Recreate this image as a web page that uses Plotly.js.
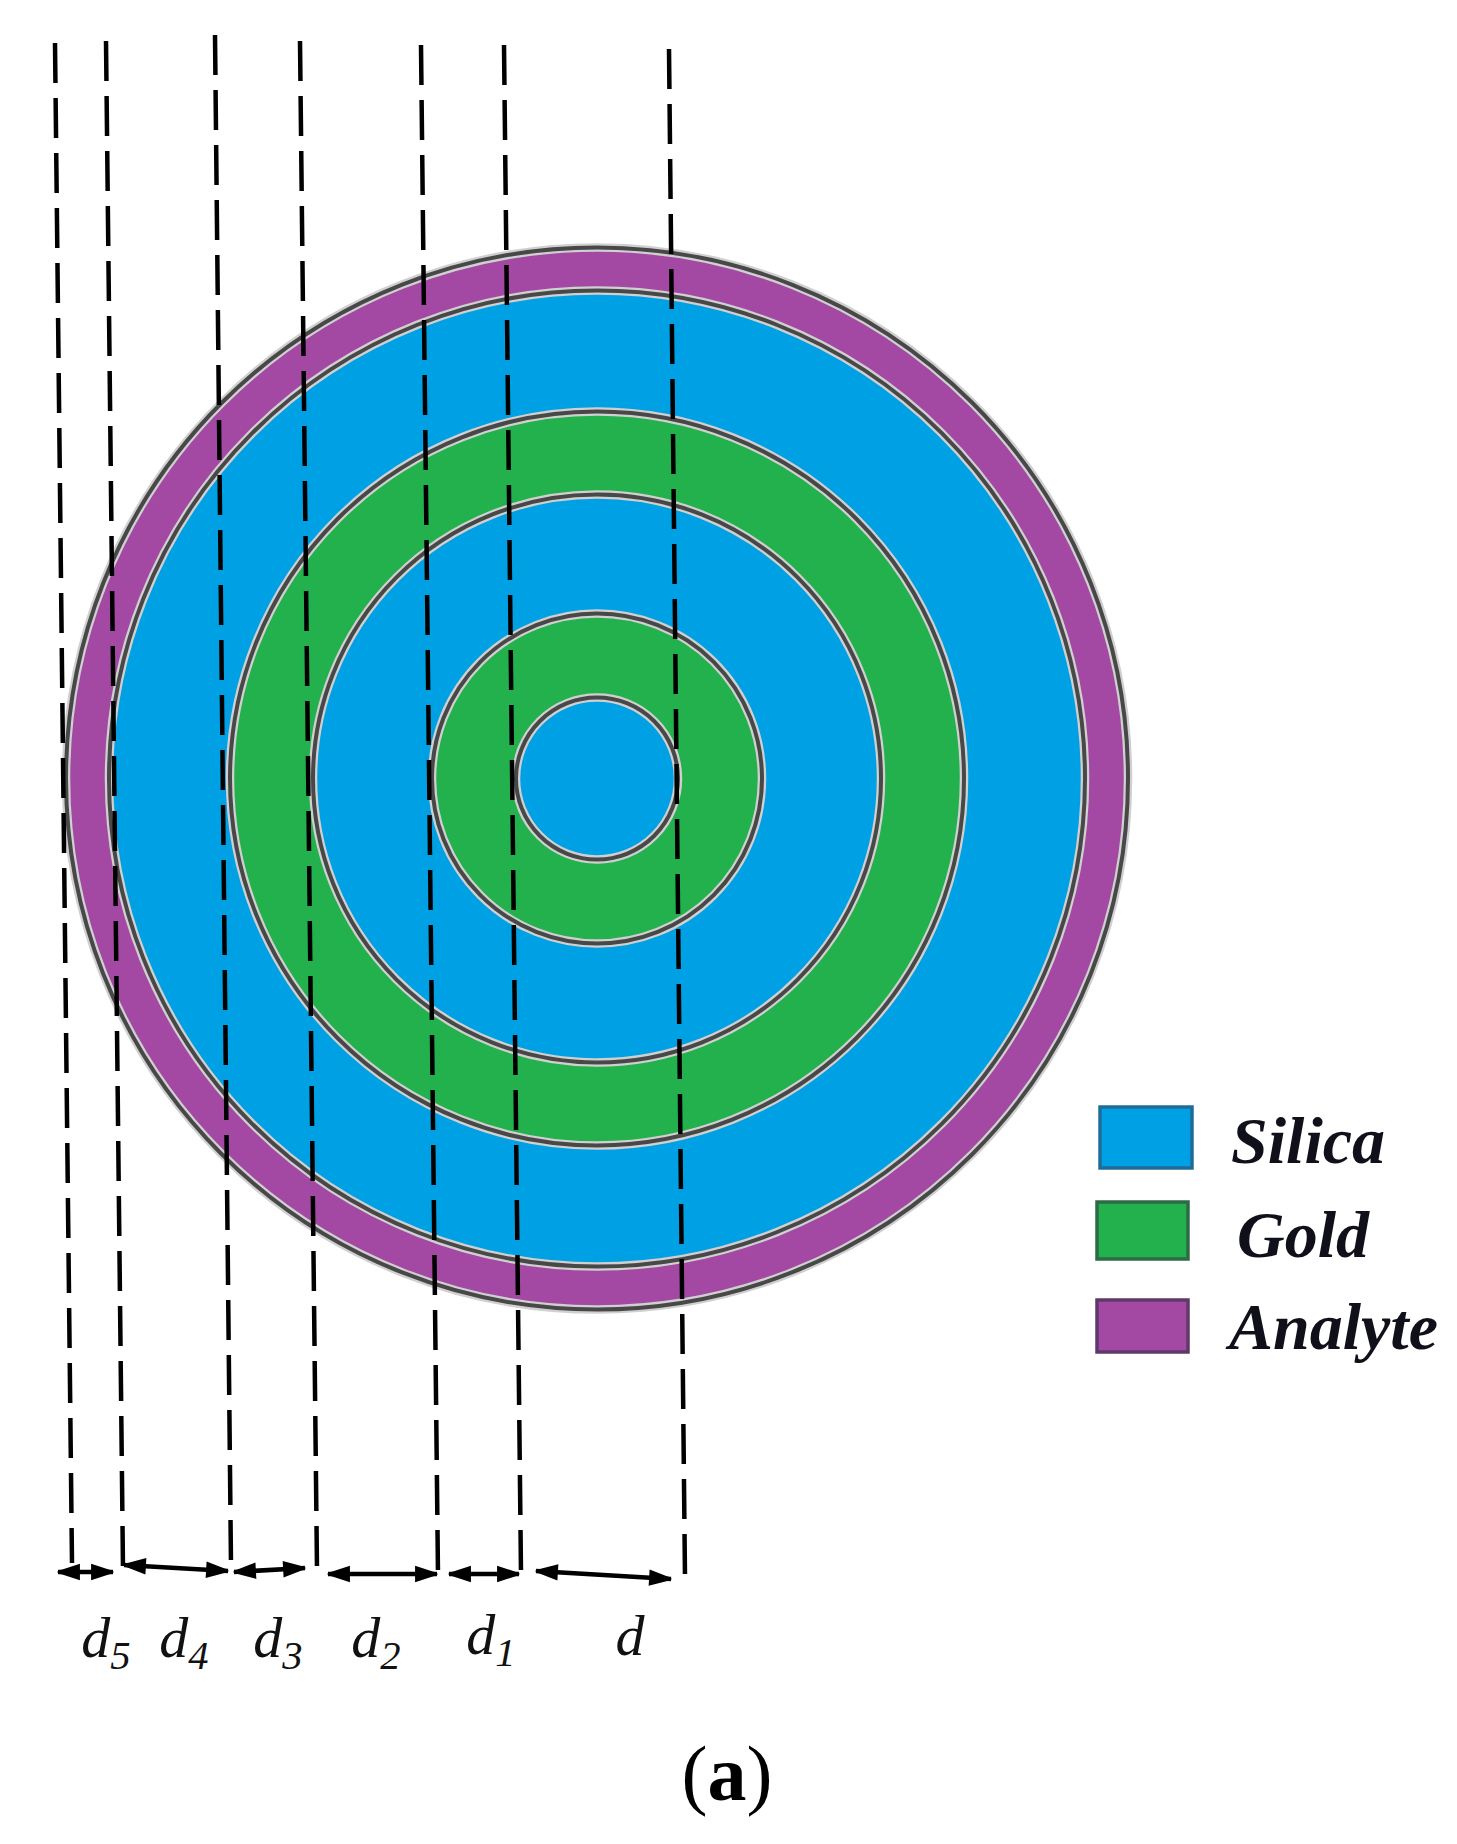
<!DOCTYPE html>
<html>
<head>
<meta charset="utf-8">
<script src="https://cdn.plot.ly/plotly-3.0.1.min.js"></script>
<style>html,body{margin:0;padding:0;background:#fff}#chart{width:1457px;height:1844px}</style>
</head>
<body>
<div id="chart"></div>
<script>
// ---- values ----
const ringMaterials = ['Analyte','Silica','Gold','Silica','Gold','Silica'];
const ringRadii = [531,488,367,284,165,81];
const centerX = 597, centerY = 778.5;
const materials = ['Silica','Gold','Analyte'];
const materialColors = ['#00A0E4','#22B14C','#A349A4'];
const materialEdges = ['#1F6C99','#2C6B45','#5F3A68'];
const guideTopX = [55,106,215,300,421,504,669];
const guideTopY = [43,41,35,41,45,45,49];
const guideBotX = [72,123,231,317,438,521,685];
const guideBotY = [1563,1569,1565,1569,1575,1573,1578];
const dimLabels = ['<i>d<sub>5</sub></i>','<i>d<sub>4</sub></i>','<i>d<sub>3</sub></i>','<i>d<sub>2</sub></i>','<i>d<sub>1</sub></i>','<i>d</i>'];
const dimLabelX = [106,184,278,376,491,630];
const dimLabelY = [1642,1642,1642,1642,1639,1640];
const arrowX0 = [58,124,234,328,449,536];
const arrowY0 = [1572,1565,1572,1574,1574,1571];
const arrowX1 = [113,228,305,437,519,671];
const arrowY1 = [1572,1571,1568,1574,1574,1579];
const legendX0 = [1100,1097,1097];
const legendX1 = [1192,1188,1188];
const legendY0 = [1107,1202,1300];
const legendY1 = [1168,1259,1352];
const legendTextX = [1231,1237,1229];
const legendTextY = [1146,1240,1332];
const captionText = ['(<b>a</b>)'];
const captionX = [727];
const captionY = [1780];

// ---- traces: dashed guide lines, double-headed dimension arrows, text ----
const traces = guideTopX.map((x,i)=>({
  type:'scatter', mode:'lines', showlegend:false, hoverinfo:'skip',
  x:[x,guideBotX[i]], y:[guideTopY[i],guideBotY[i]],
  line:{color:'#000',width:4.5,dash:'40px,15px'}
}));
arrowX0.forEach((x,i)=>{
  const tilt = Math.atan2(arrowY1[i]-arrowY0[i],arrowX1[i]-x)*180/Math.PI;
  traces.push({
    type:'scatter', mode:'lines+markers', showlegend:false, hoverinfo:'skip',
    x:[x,arrowX1[i]], y:[arrowY0[i],arrowY1[i]],
    line:{color:'#000',width:4.5},
    marker:{symbol:'arrow',size:22,color:'#000',angleref:'up',angle:[tilt-90,tilt+90],line:{color:'#000',width:2}}
  });
});
traces.push({type:'scatter',mode:'text',showlegend:false,hoverinfo:'skip',
  x:dimLabelX,y:dimLabelY,text:dimLabels,textposition:'middle center',
  textfont:{family:'"Liberation Serif",serif',size:58,color:'#111'}});
traces.push({type:'scatter',mode:'text',showlegend:false,hoverinfo:'skip',
  x:legendTextX,y:legendTextY,text:materials,textposition:'middle right',
  textfont:{family:'"Liberation Serif",serif',size:66,style:'italic',weight:'bold',color:'#10101a'}});
traces.push({type:'scatter',mode:'text',showlegend:false,hoverinfo:'skip',
  x:captionX,y:captionY,text:captionText,textposition:'middle center',
  textfont:{family:'"Liberation Serif",serif',size:78,color:'#000'}});

// ---- shapes: rings, boundaries, legend swatches ----
const shapes = [];
function circle(r,extra){
  return Object.assign({type:'circle',xref:'x',yref:'y',layer:'below',
    x0:centerX-r,x1:centerX+r,y0:centerY-r,y1:centerY+r},extra);
}
ringRadii.forEach((r,i)=>{
  const col = materialColors[materials.indexOf(ringMaterials[i])];
  shapes.push(circle(r,{fillcolor:col,line:{width:0}}));
});
ringRadii.forEach(r=>{
  shapes.push(circle(r,{fillcolor:'rgba(0,0,0,0)',line:{color:'#D0D0D0',width:8.5}}));
  shapes.push(circle(r,{fillcolor:'rgba(0,0,0,0)',line:{color:'#484848',width:4}}));
});
materials.forEach((m,i)=>{
  shapes.push({type:'rect',xref:'x',yref:'y',layer:'below',
    x0:legendX0[i],x1:legendX1[i],y0:legendY0[i],y1:legendY1[i],
    fillcolor:materialColors[i],line:{color:materialEdges[i],width:3.5}});
});

const layout = {
  width:1457,height:1844,margin:{l:0,r:0,t:0,b:0,pad:0},
  paper_bgcolor:'#fff',plot_bgcolor:'#fff',showlegend:false,
  xaxis:{range:[0,1457],visible:false,fixedrange:true},
  yaxis:{range:[1844,0],visible:false,fixedrange:true},
  shapes
};
Plotly.newPlot('chart',traces,layout,{displayModeBar:false});
</script>
</body>
</html>
